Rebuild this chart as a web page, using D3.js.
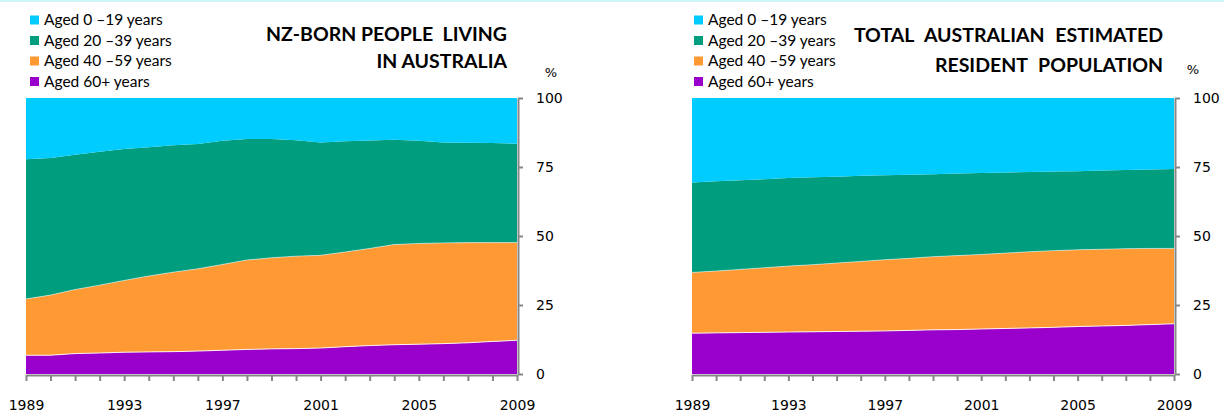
<!DOCTYPE html>
<html>
<head>
<meta charset="utf-8">
<script src="https://cdn.jsdelivr.net/npm/d3@7"></script>
<style>
body { margin: 0; background: #fff; }
svg { display: block; }
.lg { font-family: Lato, "Open Sans", sans-serif; font-size: 15.5px; fill: #000; }
.ttl { font-family: Lato, sans-serif; font-weight: bold; font-size: 19.5px; fill: #000; white-space: pre; }
.ax text { font-family: "DejaVu Sans", Verdana, sans-serif; font-size: 14px; fill: #000; }
</style>
</head>
<body>
<script>
var years = d3.range(1989, 2010)
var tickYears = [1989, 1993, 1997, 2001, 2005, 2009]
var groups = ["Aged 0 \u201319 years", "Aged 20 \u201339 years", "Aged 40 \u201359 years", "Aged 60+ years"]
var colors = ["#00ccff", "#009e7e", "#ff9933", "#9900cc"]

// nz born in australia, % by age group
var nzAge0 = [22.2,21.7,20.6,19.5,18.5,17.8,17.1,16.7,15.5,14.9,14.9,15.3,16.1,15.7,15.4,15.1,15.5,16.1,16.2,16.3,16.6]
var nzAge20 = [50.6,49.7,48.8,48.3,47.6,46.7,46.0,45.2,44.8,43.8,43.0,42.0,40.9,40.1,39.1,38.0,37.2,36.4,36.2,36.1,35.8]
var nzAge40 = [20.4,21.8,23.2,24.6,26.0,27.5,28.8,29.8,31.1,32.4,33.0,33.5,33.6,34.3,35.2,36.3,36.5,36.5,36.3,35.8,35.4]
var nzAge60 = [6.8,6.8,7.4,7.6,7.9,8.0,8.1,8.3,8.6,8.9,9.1,9.2,9.4,9.9,10.3,10.6,10.8,11.0,11.3,11.8,12.2]

// total australian erp, % by age group
var auAge0 = [30.6,30.2,29.8,29.4,29.0,28.7,28.5,28.2,28.0,27.8,27.6,27.4,27.2,27.0,26.8,26.6,26.5,26.3,26.1,25.9,25.7]
var auAge20 = [32.6,32.5,32.3,32.1,31.9,31.7,31.3,31.0,30.6,30.3,29.9,29.7,29.5,29.2,28.9,28.7,28.5,28.5,28.5,28.6,28.8]
var auAge40 = [22.0,22.4,22.9,23.4,23.9,24.3,24.8,25.3,25.8,26.1,26.5,26.8,27.0,27.3,27.6,27.8,27.8,27.8,27.8,27.6,27.3]
var auAge60 = [14.8,14.9,15.0,15.1,15.2,15.3,15.4,15.5,15.6,15.8,16.0,16.1,16.3,16.5,16.7,16.9,17.2,17.4,17.6,17.9,18.2]

var width = 1224, height = 414

var svg = d3.select("body").append("svg").attr("width", width).attr("height", height)

svg.append("rect").attr("x", 0).attr("y", 0).attr("width", width).attr("height", 2).attr("fill", "#cff6fa")

function table(a0, a20, a40, a60) {
	return years.map(function(y, i) {
		return {year: y, g0: a0[i], g20: a20[i], g40: a40[i], g60: a60[i]}
	})
}

function drawChart(opt) {
	var x = d3.scaleLinear().domain([1989, 2009]).range([opt.x0, opt.x1])
	var y = d3.scaleLinear().domain([0, 100]).range([374, 98])
	var keys = ["g60", "g40", "g20", "g0"]
	var layers = d3.stack().keys(keys)(opt.data)
	var g = svg.append("g")

	var area = d3.area().x(function(d) { return x(d.data.year) })
		.y0(function(d) { return y(d[0]) }).y1(function(d) { return y(d[1]) })

	g.selectAll("path.layer").data(layers).enter().append("path")
		.attr("class", "layer")
		.attr("d", area)
		.attr("fill", function(d, i) { return colors[3 - i] })

	// thin light edge on top of the lower two layers
	var edge = d3.line().x(function(d) { return x(d.data.year) }).y(function(d) { return y(d[1]) })
	g.selectAll("path.edge").data(layers.slice(0, 2)).enter().append("path")
		.attr("class", "edge")
		.attr("d", edge)
		.attr("fill", "none")
		.attr("stroke", "#fff")
		.attr("stroke-opacity", function(d, i) { return i == 0 ? 0.85 : 0.5 })
		.attr("stroke-width", 1)

	// y axis on the right
	var ya = g.append("g").attr("class", "ax").attr("transform", "translate(" + (opt.x1 + 1) + ",0)")
		.call(d3.axisRight(y).tickValues([0, 25, 50, 75, 100]).tickSize(5).tickSizeOuter(0).tickPadding(13))
	ya.select(".domain").attr("stroke", "#868686").attr("stroke-width", 2)
	ya.selectAll(".tick line").attr("stroke", "#868686").attr("stroke-width", 2)

	// x axis, ticks every year
	var xa = g.append("g").attr("class", "ax").attr("transform", "translate(0,375)")
		.call(d3.axisBottom(x).tickValues(years).tickSize(6).tickSizeOuter(0).tickFormat(""))
	xa.select(".domain").attr("stroke", "#868686").attr("stroke-width", 2)
	xa.selectAll(".tick line").attr("stroke", "#868686").attr("stroke-width", 2)

	var xl = g.append("g").attr("class", "ax").attr("transform", "translate(0,375)")
		.call(d3.axisBottom(x).tickValues(tickYears).tickSize(0).tickPadding(25).tickFormat(d3.format("d")))
	xl.select(".domain").remove()

	g.append("text").attr("x", opt.pctX).attr("y", opt.pctY)
		.attr("text-anchor", "middle").style("font-family", "DejaVu Sans").style("font-size", "13px").text("%")

	// title
	opt.title.forEach(function(t, i) {
		g.append("text").attr("class", "ttl").attr("x", opt.titleX).attr("y", opt.titleY[i])
			.attr("text-anchor", "end").style("word-spacing", opt.wordSp).text(t)
	})

	// legend
	groups.forEach(function(name, i) {
		var cy = 20 + i * 20.5
		g.append("rect").attr("x", opt.legX).attr("y", cy - 4.5).attr("width", 9).attr("height", 9).attr("fill", colors[i])
		g.append("text").attr("class", "lg").attr("x", opt.legX + 14).attr("y", cy).attr("dy", "0.35em").text(name)
	})
}

drawChart({
	data: table(nzAge0, nzAge20, nzAge40, nzAge60),
	x0: 26, x1: 517,
	title: ["NZ-BORN PEOPLE  LIVING", "IN AUSTRALIA"],
	titleX: 507, titleY: [41, 68],
	wordSp: "0px",
	pctX: 551, pctY: 77,
	legX: 30
})

drawChart({
	data: table(auAge0, auAge20, auAge40, auAge60),
	x0: 692, x1: 1174,
	title: ["TOTAL AUSTRALIAN ESTIMATED", "RESIDENT POPULATION"],
	titleX: 1163, titleY: [42, 72],
	wordSp: "6px",
	pctX: 1193, pctY: 74,
	legX: 694
})
</script>
</body>
</html>
